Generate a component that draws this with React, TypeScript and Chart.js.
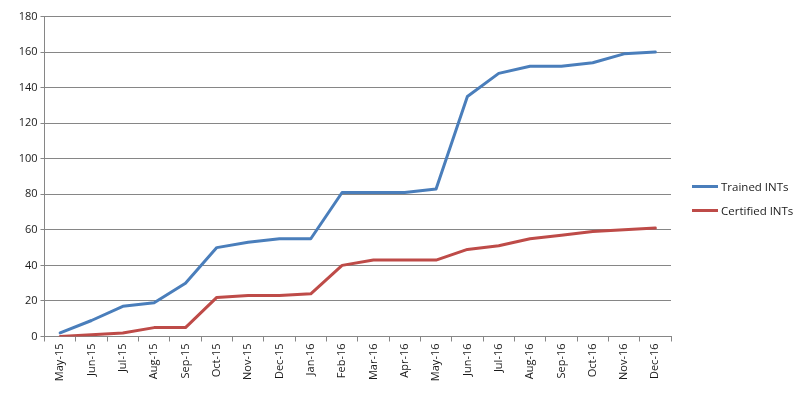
import React, { useEffect, useRef } from "react";
import { Chart, registerables } from "chart.js";
Chart.register(...registerables);

const categories = ["May-15","Jun-15","Jul-15","Aug-15","Sep-15","Oct-15","Nov-15","Dec-15","Jan-16","Feb-16","Mar-16","Apr-16","May-16","Jun-16","Jul-16","Aug-16","Sep-16","Oct-16","Nov-16","Dec-16"];
const trained = [2, 9, 17, 19, 30, 50, 53, 55, 55, 81, 81, 81, 83, 135, 148, 152, 152, 154, 159, 160];
const certified = [0, 1, 2, 5, 5, 22, 23, 23, 24, 40, 43, 43, 43, 49, 51, 55, 57, 59, 60, 61];
const seriesNames = ["Trained INTs", "Certified INTs"];
const seriesColors = ["#4A7EBB", "#BE4B48"];
const yMin = 0, yMax = 180, yStep = 20;

const FONT = "'Open Sans', 'Liberation Sans', sans-serif";

export default function App() {
  const ref = useRef<HTMLCanvasElement>(null);
  useEffect(() => {
    document.body.style.margin = "0";
    const ctx = ref.current!;
    const chart = new Chart(ctx, {
      type: "line",
      data: {
        labels: categories,
        datasets: [
          { label: seriesNames[0], data: trained, borderColor: seriesColors[0], backgroundColor: seriesColors[0], borderWidth: 3, pointRadius: 0, tension: 0, borderJoinStyle: "round", borderCapStyle: "round" },
          { label: seriesNames[1], data: certified, borderColor: seriesColors[1], backgroundColor: seriesColors[1], borderWidth: 3, pointRadius: 0, tension: 0, borderJoinStyle: "round", borderCapStyle: "round" },
        ],
      },
      options: {
        animation: false,
        responsive: false,
        devicePixelRatio: 1,
        layout: { padding: { top: 16.5, right: 137, bottom: 0, left: 0 } },
        plugins: { legend: { display: false }, tooltip: { enabled: false } },
        scales: {
          x: {
            type: "category",
            offset: true,
            grid: { drawOnChartArea: false, drawTicks: true, tickLength: 5, color: "#868686", offset: true },
            border: { color: "#868686", width: 1 },
            ticks: { maxRotation: 90, minRotation: 90, autoSkip: false, color: "#1a1a1a", font: { family: FONT, size: 11 }, padding: 2 },
            afterFit: (s: any) => { s.height = 60.5; },
          },
          y: {
            min: yMin, max: yMax,
            ticks: { stepSize: yStep, color: "#1a1a1a", font: { family: FONT, size: 11 }, padding: 3 },
            grid: { color: "#868686", tickLength: 4, lineWidth: 1 },
            border: { color: "#868686", width: 1 },
            afterFit: (s: any) => { s.width = 44.5; },
          },
        },
      },
    });
    return () => chart.destroy();
  }, []);

  return (
    <div style={{ position: "relative", width: 808, height: 397, background: "#fff" }}>
      <canvas ref={ref} width={808} height={397} style={{ display: "block" }} />
      {seriesNames.map((n, i) => (
        <div key={n} style={{ position: "absolute", left: 692, top: 178 + i * 24, height: 16, display: "flex", alignItems: "center", fontFamily: FONT, fontSize: 11.5, color: "#1a1a1a", whiteSpace: "nowrap" }}>
          <span style={{ display: "inline-block", width: 26, height: 3, background: seriesColors[i], marginRight: 3 }} />
          {n}
        </div>
      ))}
    </div>
  );
}
